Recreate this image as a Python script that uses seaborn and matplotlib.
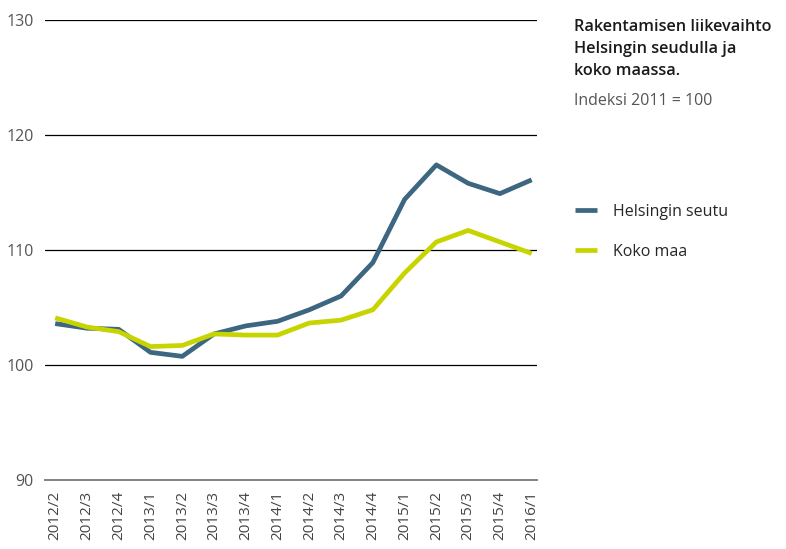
import matplotlib
matplotlib.use("Agg")
import matplotlib.pyplot as plt
import seaborn as sns
import pandas as pd

quarters = ["2012/2", "2012/3", "2012/4", "2013/1", "2013/2", "2013/3", "2013/4", "2014/1",
            "2014/2", "2014/3", "2014/4", "2015/1", "2015/2", "2015/3", "2015/4", "2016/1"]
helsinki = [103.6, 103.2, 103.1, 101.1, 100.75, 102.7, 103.4, 103.8,
            104.8, 106.0, 108.9, 114.4, 117.4, 115.8, 114.9, 116.1]
koko_maa = [104.1, 103.3, 102.9, 101.6, 101.7, 102.7, 102.6, 102.6,
            103.65, 103.9, 104.8, 108.0, 110.7, 111.7, 110.7, 109.7]
series_names = ["Helsingin seutu", "Koko maa"]
colors = ["#3d6680", "#c8d400"]

df = pd.DataFrame({
    "jakso": quarters * 2,
    "x": list(range(len(quarters))) * 2,
    "indeksi": helsinki + koko_maa,
    "alue": [series_names[0]] * len(quarters) + [series_names[1]] * len(quarters),
})

sns.set_style("white")
plt.rcParams["font.family"] = ["Open Sans", "DejaVu Sans"]

fig = plt.figure(figsize=(7.86, 5.49), dpi=100)
ax = fig.add_axes([0.0573, 0.1257, 0.6260, 0.8379])

sns.lineplot(data=df, x="x", y="indeksi", hue="alue", palette=colors,
             linewidth=3.4, ax=ax, legend=False, solid_capstyle="butt")

ax.set_xlim(-0.32, len(quarters) - 1 + 0.17)
ax.set_ylim(90, 130)
ax.set_yticks([90, 100, 110, 120, 130])
ax.set_yticklabels(["90", "100", "110", "120", "130"], color="#555555", fontsize=11.5)
ax.set_xticks(range(len(quarters)))
ax.set_xticklabels(quarters, rotation=90, color="#444444", fontsize=11)
ax.set_xlabel("")
ax.set_ylabel("")

for v in [100, 110, 120, 130]:
    ax.axhline(v, color="black", linewidth=0.9, zorder=0)

for s in ["top", "right", "left"]:
    ax.spines[s].set_visible(False)
ax.spines["bottom"].set_color("#777777")
ax.spines["bottom"].set_linewidth(1.3)
ax.tick_params(axis="x", direction="out", length=5, width=0.9, color="#444444", pad=3)
ax.tick_params(axis="y", length=0, pad=8)
ax.grid(False)

fig.text(0.730, 0.966, "Rakentamisen liikevaihto\nHelsingin seudulla ja\nkoko maassa.",
         fontsize=11.7, fontweight="semibold", color="#1a1a1a", va="top", ha="left",
         linespacing=1.5)
fig.text(0.730, 0.830, "Indeksi 2011 = 100", fontsize=11.5, color="#555555",
         va="top", ha="left")

handles = [plt.Line2D([], [], color=c, linewidth=3.4, solid_capstyle="butt") for c in colors]
fig.legend(handles, series_names, loc="upper left", bbox_to_anchor=(0.7316, 0.629),
           frameon=False, fontsize=11.5, handlelength=1.4, handletextpad=1.0,
           labelspacing=1.5, borderpad=0, borderaxespad=0)

fig.savefig("out.png", dpi=100)
